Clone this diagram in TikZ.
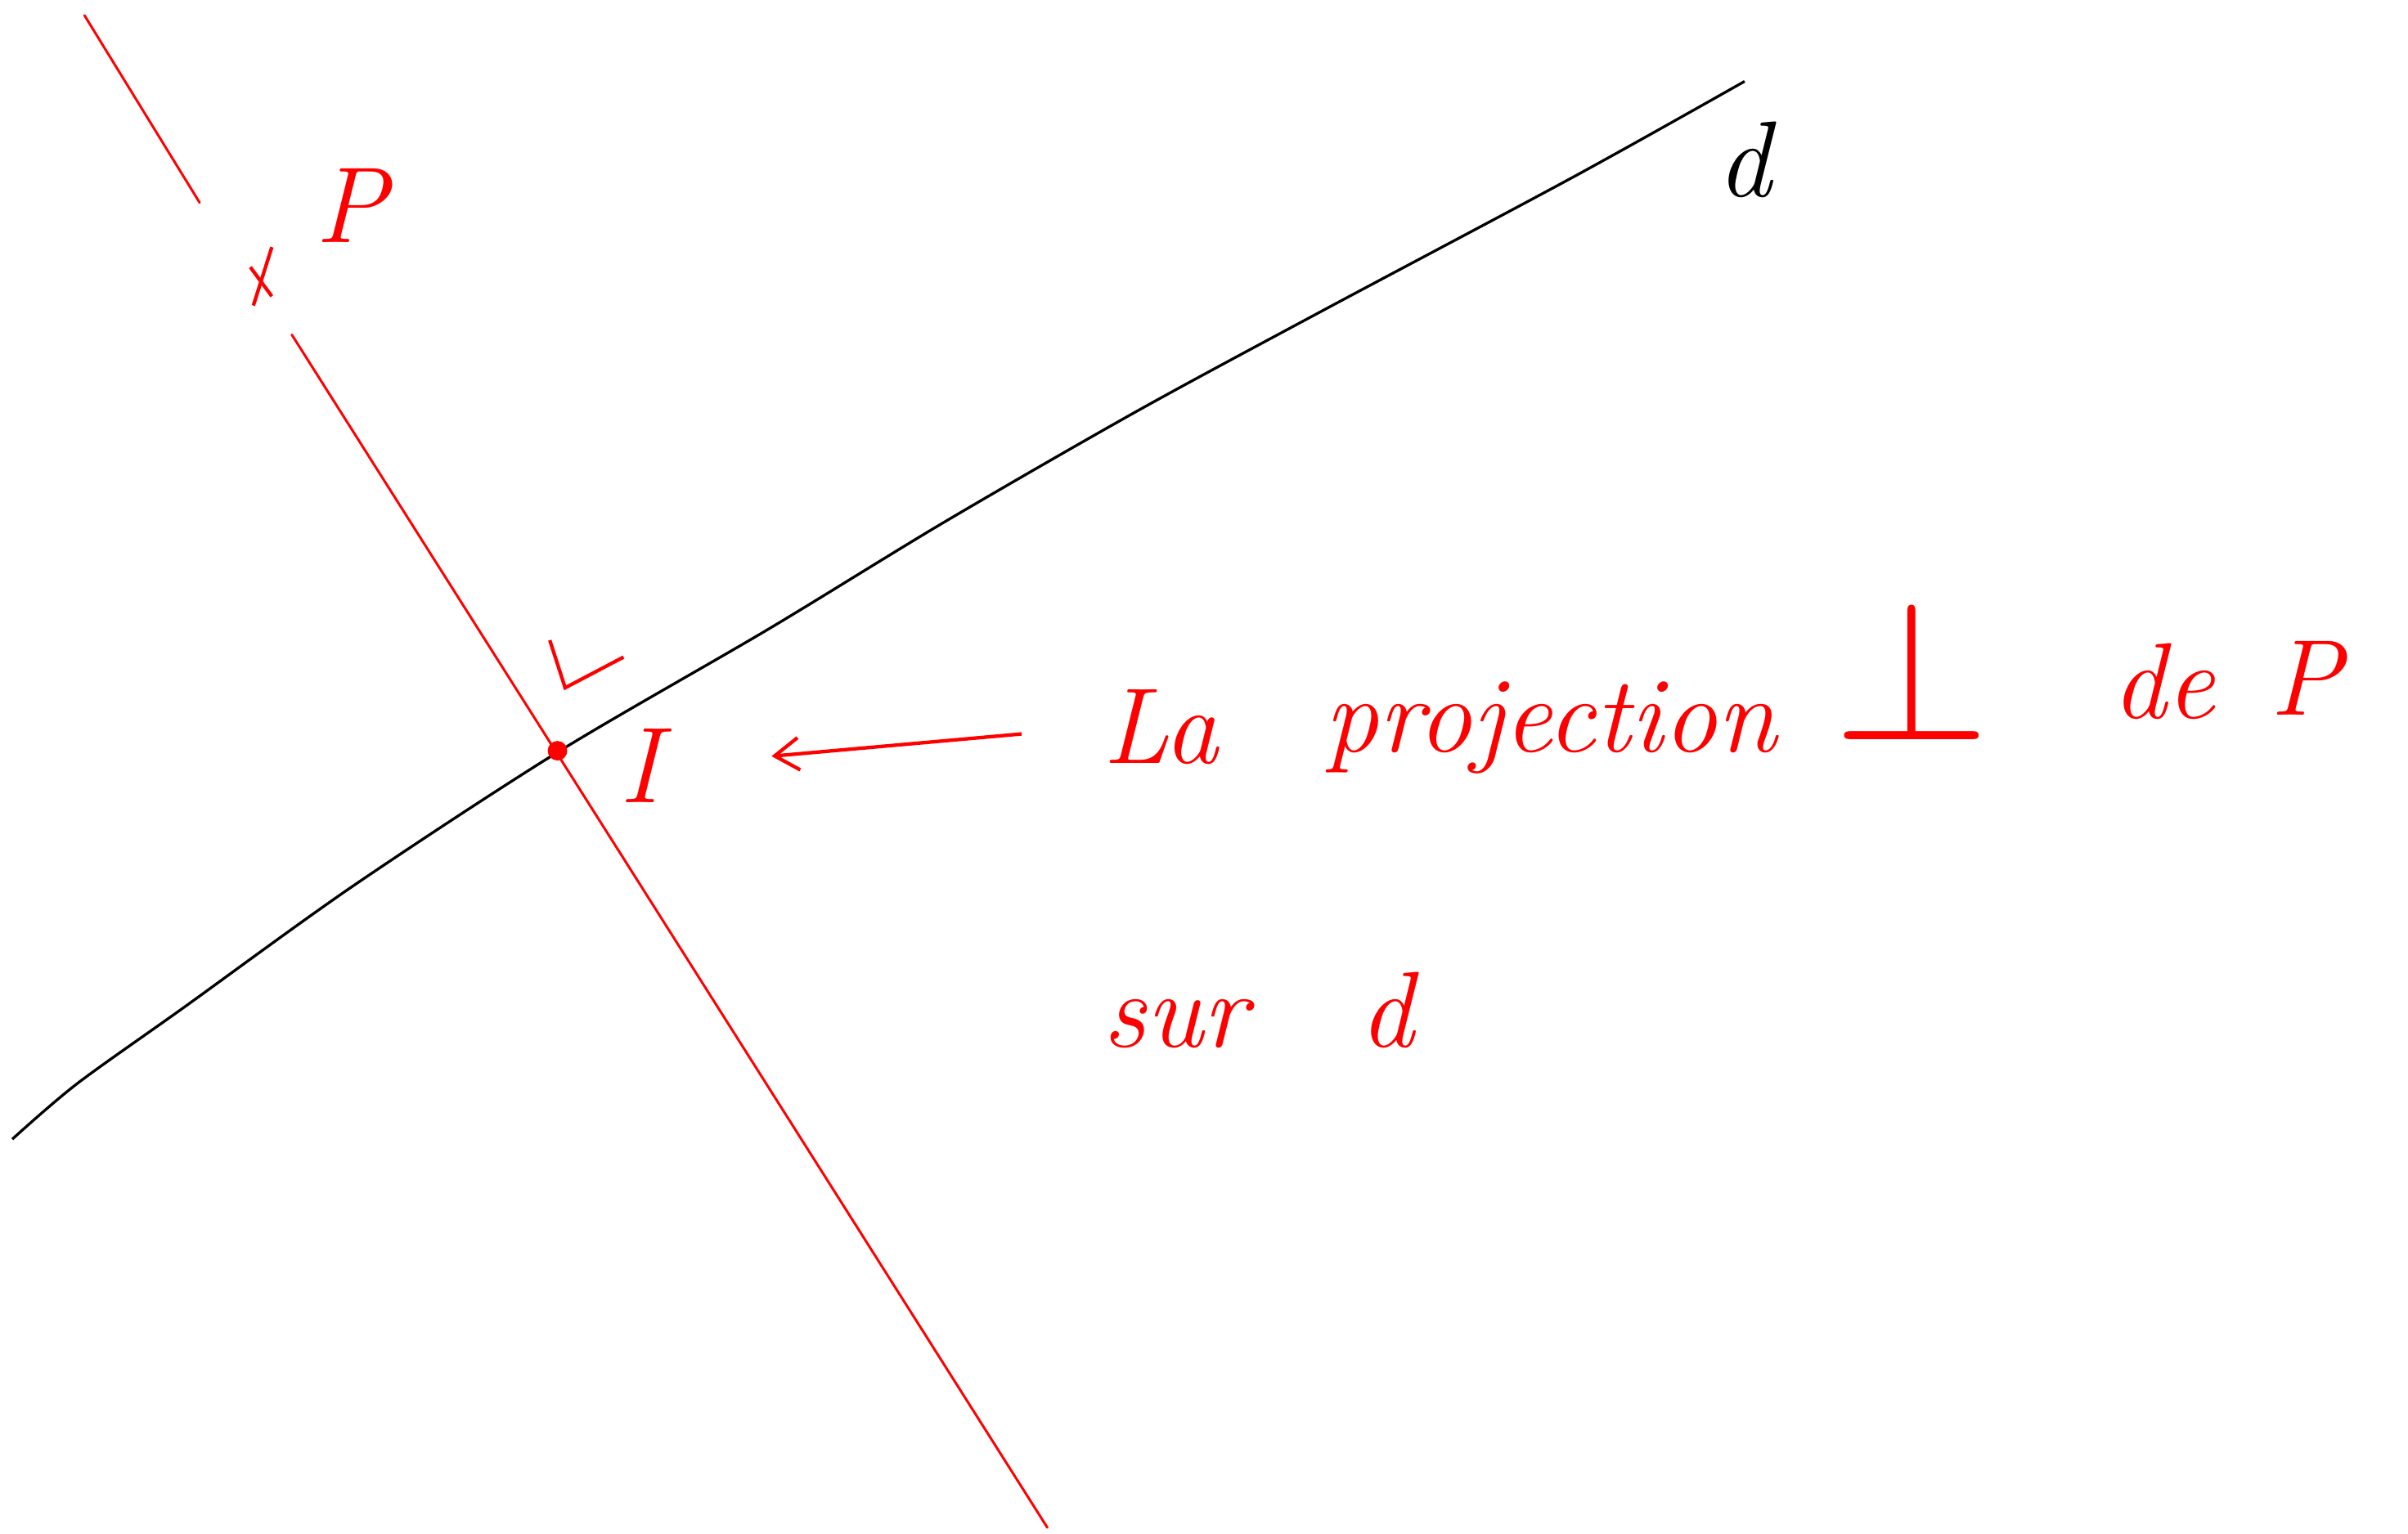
\documentclass[tikz,border=0pt]{standalone}
\usepackage{tkz-euclide}
\usetikzlibrary{arrows.meta,calc}
\definecolor{PenRed}{rgb}{1,0,0}
\definecolor{PenBlack}{rgb}{0,0,0}
\tikzset{
  hand/.style={text=PenRed,font=\fontsize{40}{48}\selectfont\itshape,inner sep=0pt},
  pointer/.style={draw=PenRed,line width=1.3pt,-{Straight Barb[length=9pt,width=12pt]}},
}

\begin{document}
\begin{tikzpicture}[x=0.02cm,y=-0.02cm]
\useasboundingbox (0,0) rectangle (1568,999);
\tkzSetUpLine[line width=.9pt,color=PenRed]

\tkzDefPoints{55/10/A1,130/132/A2,190/218/B1,682/995/B2,363/489/I,171/182/P}

% la droite d
\draw[line width=1pt,color=PenBlack] plot[smooth] coordinates {(8,742) (50,706) (120,656)
  (230,577) (363,490) (500,410) (615,340) (740,268) (860,203) (1025,115) (1136,53)};
\node[hand,text=PenBlack,anchor=base west] (dlab) at (1118,128) {d};

% la perpendiculaire
\tkzDrawSegments(A1,A2 B1,B2)

\draw[PenRed,line width=1.3pt] ($(P)+(-8,-8)$) -- ($(P)+(6,11)$);
\draw[PenRed,line width=1.3pt] ($(P)+(6,-21)$) -- ($(P)+(-6,17)$);
\node[hand,anchor=base west] (Plab) at (205,158) {P};

\draw[PenRed,line width=1.3pt] (358,417) -- (368,448) -- (406,428);

\filldraw[PenRed] (I) circle (6);
\node[hand,anchor=base west] (Ilab) at (403,523) {I};

% texte
\node[hand,anchor=base west] (la) at (718,497) {La};
\node[hand,anchor=base west] (proj) at (862,490) {projection};
\node[hand] (perp) at (1245,436) {\scalebox{3}{$\perp$}};
\node[hand,anchor=base west] (de) at (1375,468) {de};
\node[hand,anchor=base west] (Pbis) at (1478,466) {P};
\node[hand,anchor=base west] (sur) at (718,682) {sur};
\node[hand,anchor=base west] (dbis) at (885,682) {d};

\draw[pointer,shorten <=1.06cm,shorten >=1.45cm] (la.west) -- (Ilab.east);

\end{tikzpicture}
\end{document}
